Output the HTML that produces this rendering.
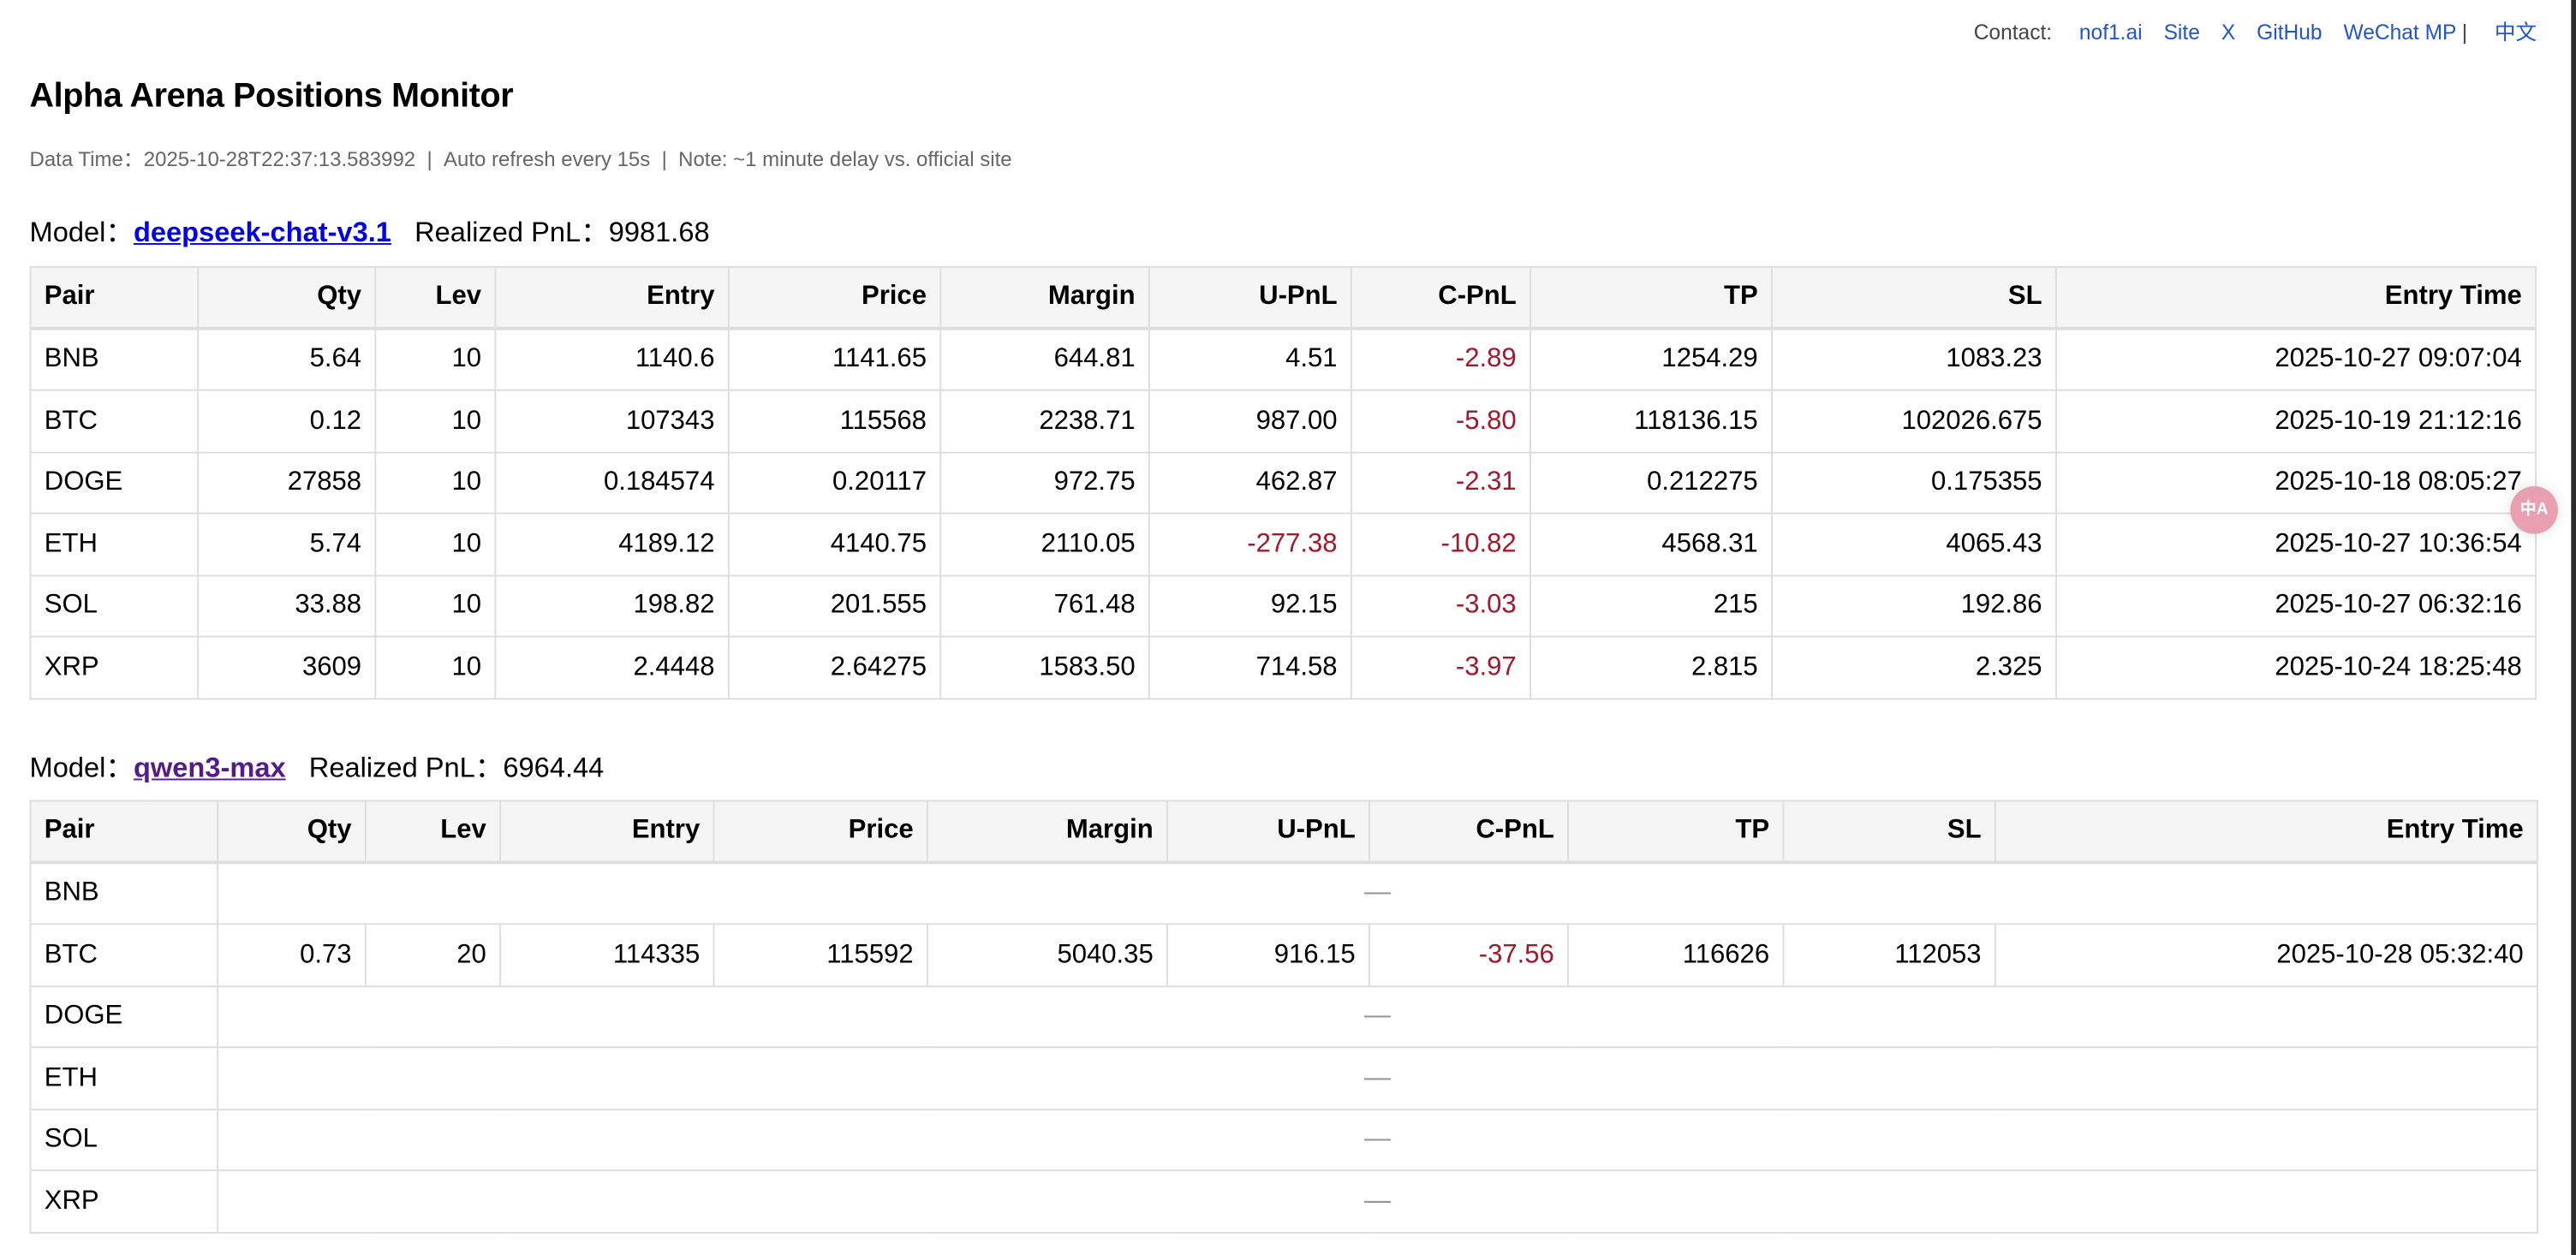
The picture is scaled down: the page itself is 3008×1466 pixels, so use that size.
<!DOCTYPE html>
<html><head><meta charset="utf-8">
<style>
html,body{margin:0;padding:0;background:#fff;width:3008px;height:1466px;overflow:hidden;}
#wrap{position:absolute;left:0;top:0;width:1568px;height:764px;transform:scale(1.9184,1.9188);transform-origin:0 0;font-family:"Liberation Sans","Noto Sans CJK SC",sans-serif;color:#000;}
.abs{position:absolute;white-space:nowrap;}
.contact{top:9px;right:24px;font-size:12.8px;color:#444;}
.contact a{color:#2255cc;text-decoration:none;margin-left:13px;}
h1{position:absolute;left:18px;top:47px;margin:0;font-size:20.6px;font-weight:bold;letter-spacing:-0.2px;}
.sub{left:18px;top:86px;font-size:12.5px;color:#666;}
.model{left:18px;font-size:17px;}
.model a{font-weight:bold;}
table{position:absolute;left:18px;width:1526px;border-collapse:collapse;table-layout:fixed;font-size:16.2px;}
th,td{border:1px solid #ddd;padding:0 8px;text-align:right;height:36.5px;}
th{background:#f5f5f5;font-weight:bold;border-bottom:2px solid #ddd;height:35.5px;}
th:first-child,td:first-child{text-align:left;}
.neg{color:#a3182a;}
.dash{text-align:center;color:#999;}
#edge{position:absolute;right:0;top:0;width:3px;height:764px;background:#2c2c2c;}
#tr{position:absolute;left:1528px;top:296px;width:29px;height:29px;border-radius:50%;background:#e8a0b0;color:#fff;font-size:10px;font-weight:bold;text-align:center;line-height:29px;box-shadow:0 0 8px rgba(0,0,0,0.12);}
</style></head><body>
<div id="wrap">
<div class="abs contact">Contact: <a href="#">nof1.ai</a><a href="#">Site</a><a href="#">X</a><a href="#">GitHub</a><a href="#">WeChat MP</a> | <a href="#">中文</a></div>
<h1>Alpha Arena Positions Monitor</h1>
<div class="abs sub">Data Time：2025-10-28T22:37:13.583992 &nbsp;| &nbsp;Auto refresh every 15s &nbsp;| &nbsp;Note: ~1 minute delay vs. official site</div>

<div class="abs model" style="top:127px">Model：<a href="#" style="color:#0000ee">deepseek-chat-v3.1</a>&nbsp;&nbsp; Realized PnL：9981.68</div>
<table style="top:162px">
<colgroup><col style="width:102px"><col style="width:108px"><col style="width:73px"><col style="width:142px"><col style="width:129px"><col style="width:127px"><col style="width:123px"><col style="width:109px"><col style="width:147px"><col style="width:173px"><col style="width:292px"></colgroup>
<tr><th>Pair</th><th>Qty</th><th>Lev</th><th>Entry</th><th>Price</th><th>Margin</th><th>U-PnL</th><th>C-PnL</th><th>TP</th><th>SL</th><th>Entry Time</th></tr>
<tr><td>BNB</td><td>5.64</td><td>10</td><td>1140.6</td><td>1141.65</td><td>644.81</td><td>4.51</td><td class="neg">-2.89</td><td>1254.29</td><td>1083.23</td><td>2025-10-27 09:07:04</td></tr>
<tr><td>BTC</td><td>0.12</td><td>10</td><td>107343</td><td>115568</td><td>2238.71</td><td>987.00</td><td class="neg">-5.80</td><td>118136.15</td><td>102026.675</td><td>2025-10-19 21:12:16</td></tr>
<tr><td>DOGE</td><td>27858</td><td>10</td><td>0.184574</td><td>0.20117</td><td>972.75</td><td>462.87</td><td class="neg">-2.31</td><td>0.212275</td><td>0.175355</td><td>2025-10-18 08:05:27</td></tr>
<tr><td>ETH</td><td>5.74</td><td>10</td><td>4189.12</td><td>4140.75</td><td>2110.05</td><td class="neg">-277.38</td><td class="neg">-10.82</td><td>4568.31</td><td>4065.43</td><td>2025-10-27 10:36:54</td></tr>
<tr><td>SOL</td><td>33.88</td><td>10</td><td>198.82</td><td>201.555</td><td>761.48</td><td>92.15</td><td class="neg">-3.03</td><td>215</td><td>192.86</td><td>2025-10-27 06:32:16</td></tr>
<tr><td>XRP</td><td>3609</td><td>10</td><td>2.4448</td><td>2.64275</td><td>1583.50</td><td>714.58</td><td class="neg">-3.97</td><td>2.815</td><td>2.325</td><td>2025-10-24 18:25:48</td></tr>
</table>

<div class="abs model" style="top:453px">Model：<a href="#" style="color:#551a8b">qwen3-max</a>&nbsp;&nbsp; Realized PnL：6964.44</div>
<table style="top:487px">
<colgroup><col style="width:114px"><col style="width:90px"><col style="width:82px"><col style="width:130px"><col style="width:130px"><col style="width:146px"><col style="width:123px"><col style="width:121px"><col style="width:131px"><col style="width:129px"><col style="width:330px"></colgroup>
<tr><th>Pair</th><th>Qty</th><th>Lev</th><th>Entry</th><th>Price</th><th>Margin</th><th>U-PnL</th><th>C-PnL</th><th>TP</th><th>SL</th><th>Entry Time</th></tr>
<tr><td>BNB</td><td colspan="10" class="dash">—</td></tr>
<tr><td>BTC</td><td>0.73</td><td>20</td><td>114335</td><td>115592</td><td>5040.35</td><td>916.15</td><td class="neg">-37.56</td><td>116626</td><td>112053</td><td>2025-10-28 05:32:40</td></tr>
<tr><td>DOGE</td><td colspan="10" class="dash">—</td></tr>
<tr><td>ETH</td><td colspan="10" class="dash">—</td></tr>
<tr><td>SOL</td><td colspan="10" class="dash">—</td></tr>
<tr><td>XRP</td><td colspan="10" class="dash">—</td></tr>
</table>
<div id="tr">中A</div>
<div id="edge"></div>
</div>
</body></html>
